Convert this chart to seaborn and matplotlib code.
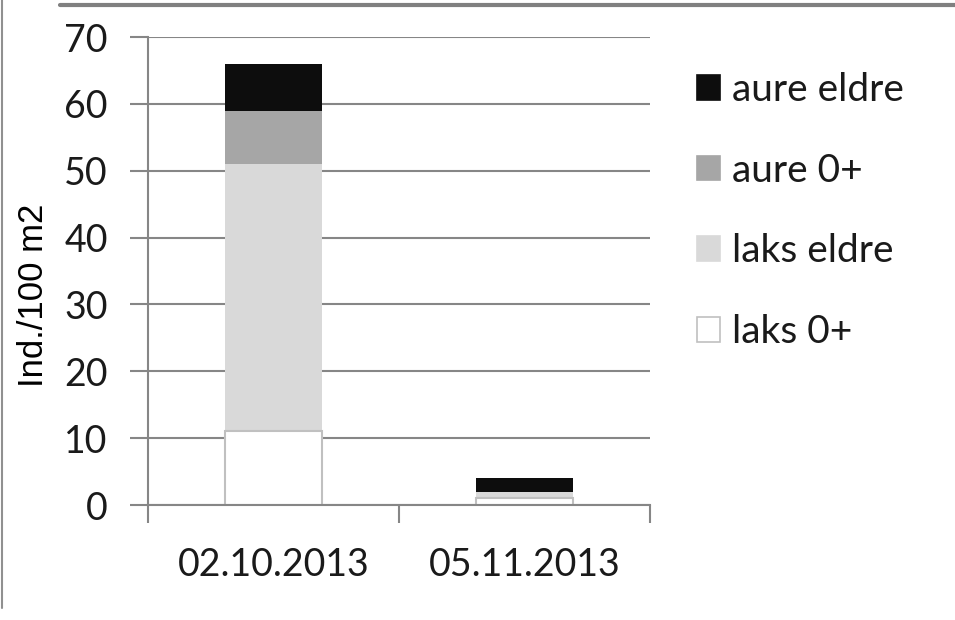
import matplotlib
matplotlib.use("Agg")
import matplotlib.pyplot as plt
from matplotlib.lines import Line2D
from matplotlib.patches import Patch
import numpy as np
import pandas as pd
import seaborn as sns

# Density of fish per sampling date (individuals per 100 m2)
dates = ["02.10.2013", "05.11.2013"]
series = ["laks 0+", "laks eldre", "aure 0+", "aure eldre"]
laks_0 = [11, 1]
laks_eldre = [40, 1]
aure_0 = [8, 0]
aure_eldre = [7, 2]
colors = ["#ffffff", "#d9d9d9", "#a6a6a6", "#0d0d0d"]
y_ticks = [0, 10, 20, 30, 40, 50, 60, 70]

sns.set_theme(style="white")
plt.rcParams["font.family"] = ["Lato", "DejaVu Sans"]

fig = plt.figure(figsize=(9.55, 6.2), dpi=100)
ax = fig.add_axes([148 / 955, 1 - 505 / 620, (650 - 148) / 955, (505 - 37) / 620])

values = np.array([laks_0, laks_eldre, aure_0, aure_eldre], dtype=float)
cumulative = np.cumsum(values, axis=0)

# Stacked bars: draw the cumulative totals from the top layer down
for i in range(len(series) - 1, -1, -1):
    df = pd.DataFrame({"date": dates, "value": cumulative[i]})
    edge = "#c0c0c0" if colors[i] == "#ffffff" else colors[i]
    sns.barplot(data=df, x="date", y="value", color=colors[i], saturation=1,
                width=0.39, edgecolor=edge, linewidth=1.5 if colors[i] == "#ffffff" else 0,
                ax=ax, zorder=2)

ax.set_xlim(-0.5, 1.5)
ax.set_ylim(0, 70)
ax.set_yticks(y_ticks)
ax.set_yticklabels([str(t) for t in y_ticks])
ax.yaxis.grid(True, color="#868686", linewidth=1.5, zorder=0)
ax.set_axisbelow(True)

for side in ["top", "right"]:
    ax.spines[side].set_visible(False)
for side in ["left", "bottom"]:
    ax.spines[side].set_color("#868686")
    ax.spines[side].set_linewidth(1.5)

ax.tick_params(axis="y", which="major", length=13, width=1.5, color="#868686",
               labelsize=27, pad=16, labelcolor="#1a1a1a", left=True)
ax.tick_params(axis="x", which="major", length=0, labelsize=27, pad=30,
               labelcolor="#1a1a1a")
ax.set_xticks([-0.5, 0.5, 1.5], minor=True)
ax.tick_params(axis="x", which="minor", length=13, width=1.5, color="#868686",
               bottom=True)

ax.set_xlabel("")
ax.set_ylabel("Ind./100 m2", fontsize=25, family=["Liberation Sans", "DejaVu Sans"],
              color="#000000")
ax.yaxis.set_label_coords((50 - 148) / 502, (505 - 295) / 468)

handles = [Patch(facecolor=colors[i],
                 edgecolor="#c0c0c0" if colors[i] == "#ffffff" else colors[i],
                 linewidth=1.2)
           for i in range(len(series) - 1, -1, -1)]
labels = [series[i] for i in range(len(series) - 1, -1, -1)]
leg = fig.legend(handles, labels, loc="upper left",
                 bbox_to_anchor=(697 / 955, 1 - 72 / 620),
                 frameon=False, fontsize=28, handlelength=0.6, handleheight=0.6,
                 handletextpad=0.3, labelspacing=1.15, borderaxespad=0,
                 borderpad=0)
for t in leg.get_texts():
    t.set_color("#1a1a1a")

# Frame lines along the top and left edges of the figure
fig.add_artist(Line2D([60 / 955, 1.0], [1 - 5 / 620, 1 - 5 / 620],
                      transform=fig.transFigure, color="#808080", linewidth=3))
fig.add_artist(Line2D([2 / 955, 2 / 955], [1.0, 1 - 608 / 620],
                      transform=fig.transFigure, color="#909090", linewidth=1.5))

fig.savefig("out.png", dpi=100, facecolor="white")
